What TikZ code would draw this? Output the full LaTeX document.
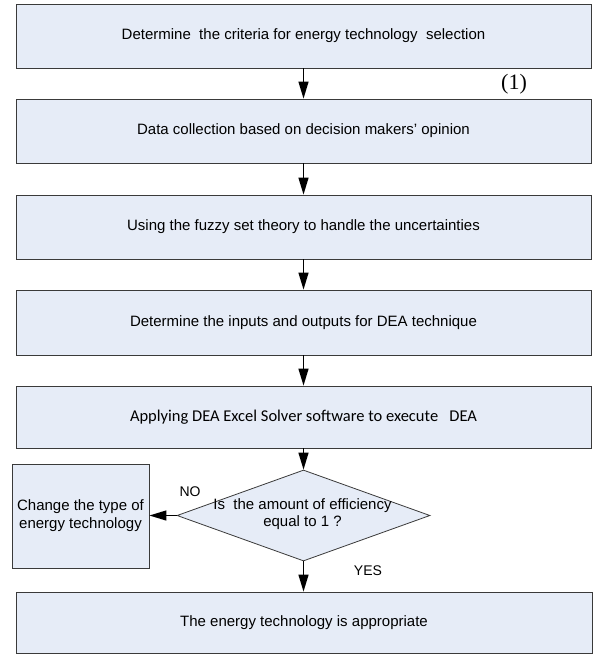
\documentclass[tikz,border=0pt]{standalone}
\usepackage{fontspec}
\setmainfont{Liberation Sans}
\newfontfamily\calfont{Carlito}
\newfontfamily\timesfont{Liberation Serif}
\usetikzlibrary{arrows.meta,shapes.geometric}
\definecolor{boxfill}{HTML}{E6ECF7}
\definecolor{boxline}{HTML}{3A3A3A}
\begin{document}
\begin{tikzpicture}[x=1pt,y=-1pt,
  procbox/.style={draw=boxline, line width=0.8pt, fill=boxfill, rectangle, inner sep=0pt,
    font=\fontsize{15}{18}\selectfont, align=center},
  widebox/.style={procbox, minimum width=575pt, minimum height=64pt},
  flow/.style={-{Triangle[length=17pt,width=10pt]}, line width=1.3pt, black},
  lbl/.style={font=\fontsize{14}{16}\selectfont, inner sep=0pt}]
\useasboundingbox (0,0) rectangle (595,655);

\node[widebox] (b1) at (303.5,36) {Determine\ \ the criteria for energy technology\ \ selection};
\node[widebox] (b2) at (303.5,131) {Data collection based on decision makers' opinion};
\node[widebox] (b3) at (303.5,227) {Using the fuzzy set theory to handle the uncertainties};
\node[widebox, minimum height=65pt] (b4) at (303.5,322.5) {Determine the inputs and outputs for DEA technique};
\node[widebox, minimum height=62pt, font=\calfont\fontsize{16.5}{19}\selectfont] (b5) at (303.5,417) {Applying DEA Excel Solver software to execute\ \ \ DEA};

\node[draw=boxline, line width=0.8pt, fill=boxfill, diamond, minimum width=253pt,
  minimum height=91pt, inner sep=0pt] (dec) at (303.5,515.5) {};
\node[font=\fontsize{15}{17}\selectfont, align=center, inner sep=0pt] (dtext) at (302.5,514) {Is\ \ the amount of efficiency\\equal to 1 ?};

\node[procbox, minimum width=137pt, minimum height=104pt] (chg) at (80.5,516) {Change the type of\\energy technology};
\node[widebox, minimum width=576pt, minimum height=61pt] (fin) at (304,622.5) {The energy technology is appropriate};

\draw[flow] (b1.south) -- (b2.north);
\draw[flow] (b2.south) -- (b3.north);
\draw[flow] (b3.south) -- (b4.north);
\draw[flow] (b4.south) -- (b5.north);
\draw[flow] (b5.south) -- (dec.north);
\draw[flow] (dec.south) -- (dec.south |- fin.north);
\draw[flow] (dec.west) -- (chg.east |- dec.west);

\node[lbl] (no) at (190,492) {NO};
\node[lbl] (yes) at (368,571) {YES};
\node[font=\timesfont\fontsize{22}{24}\selectfont, inner sep=0pt] (one) at (514,84) {(1)};
\end{tikzpicture}
\end{document}
